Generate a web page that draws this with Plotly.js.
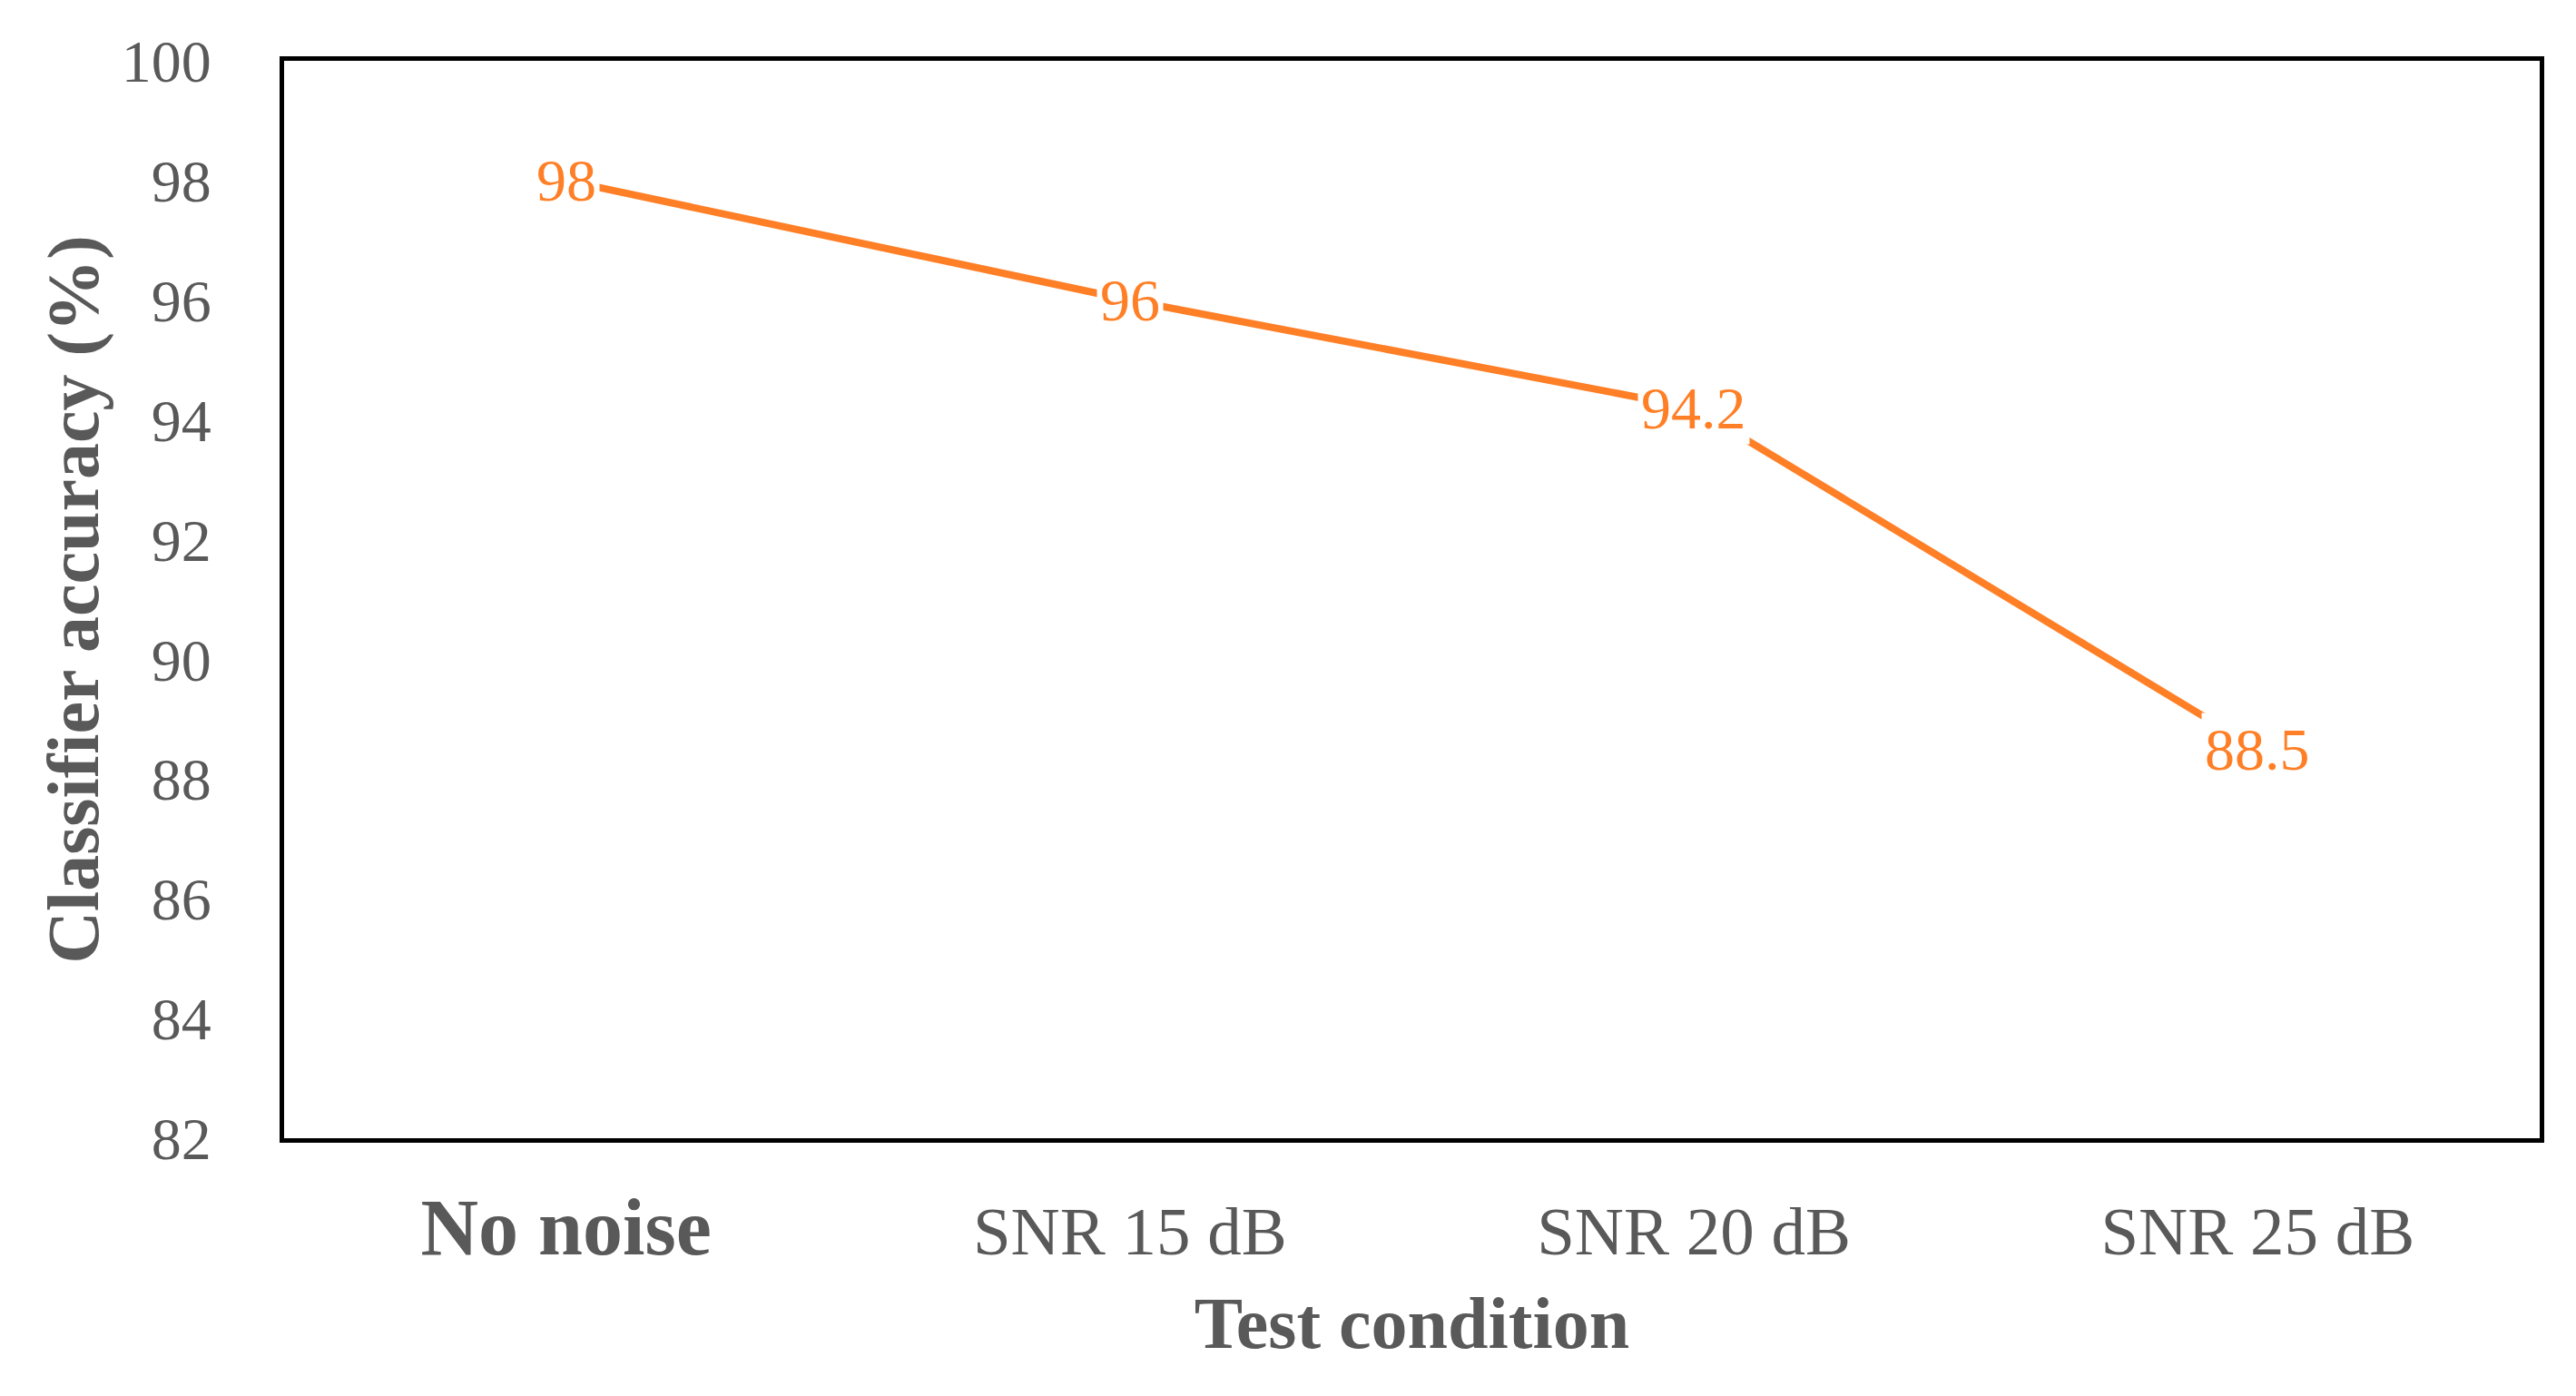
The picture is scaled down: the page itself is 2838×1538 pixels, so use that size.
<!DOCTYPE html>
<html>
<head>
<meta charset="utf-8">
<script src="https://cdn.plot.ly/plotly-3.0.1.min.js"></script>
<style>html,body{margin:0;padding:0;background:#fff;}#chart{width:2838px;height:1538px;}</style>
</head>
<body>
<div id="chart"></div>
<script>
const categories = ["No noise", "SNR 15 dB", "SNR 20 dB", "SNR 25 dB"];
const accuracy = [98, 96, 94.2, 88.5];
const valueLabels = ["98", "96", "94.2", "88.5"];
const yTicks = [82, 84, 86, 88, 90, 92, 94, 96, 98, 100];

const serif = "Liberation Serif, Times New Roman, serif";
const gray = "#595959";
const orange = "#FF7F27";

const tickText = categories.map((c, i) =>
  i === 0 ? "<b><span style='font-size:88px'>" + c + "</span></b>" : c);

const trace = {
  type: "scatter",
  mode: "lines",
  x: categories,
  y: accuracy,
  line: {color: orange, width: 8},
  hoverinfo: "skip",
  showlegend: false
};

const annotations = categories.map((c, i) => ({
  x: c, y: accuracy[i], xref: "x", yref: "y",
  text: valueLabels[i], showarrow: false,
  bgcolor: "#ffffff", borderpad: 3,
  font: {family: serif, size: 66, color: orange}
}));

const layout = {
  width: 2838, height: 1538,
  margin: {l: 313, r: 40, t: 67, b: 284, pad: 0},
  paper_bgcolor: "#ffffff", plot_bgcolor: "#ffffff",
  xaxis: {
    type: "category", range: [-0.5, 3.5],
    tickvals: categories, ticktext: tickText,
    showgrid: false, zeroline: false,
    showline: true, mirror: true, linecolor: "#000000", linewidth: 5,
    ticks: "", ticklabelstandoff: 33,
    tickfont: {family: serif, size: 75, color: gray},
    title: {text: "<b>Test condition</b>", standoff: 30,
            font: {family: serif, size: 80, color: gray}}
  },
  yaxis: {
    range: [82, 100], tickvals: yTicks,
    showgrid: false, zeroline: false,
    showline: true, mirror: true, linecolor: "#000000", linewidth: 5,
    ticks: "", ticklabelstandoff: 62,
    tickfont: {family: serif, size: 66, color: gray},
    title: {text: "<b>Classifier accuracy (%)</b>", standoff: 0,
            font: {family: serif, size: 80, color: gray}}
  },
  annotations: annotations
};

Plotly.newPlot("chart", [trace], layout, {displayModeBar: false, staticPlot: true});
</script>
</body>
</html>
